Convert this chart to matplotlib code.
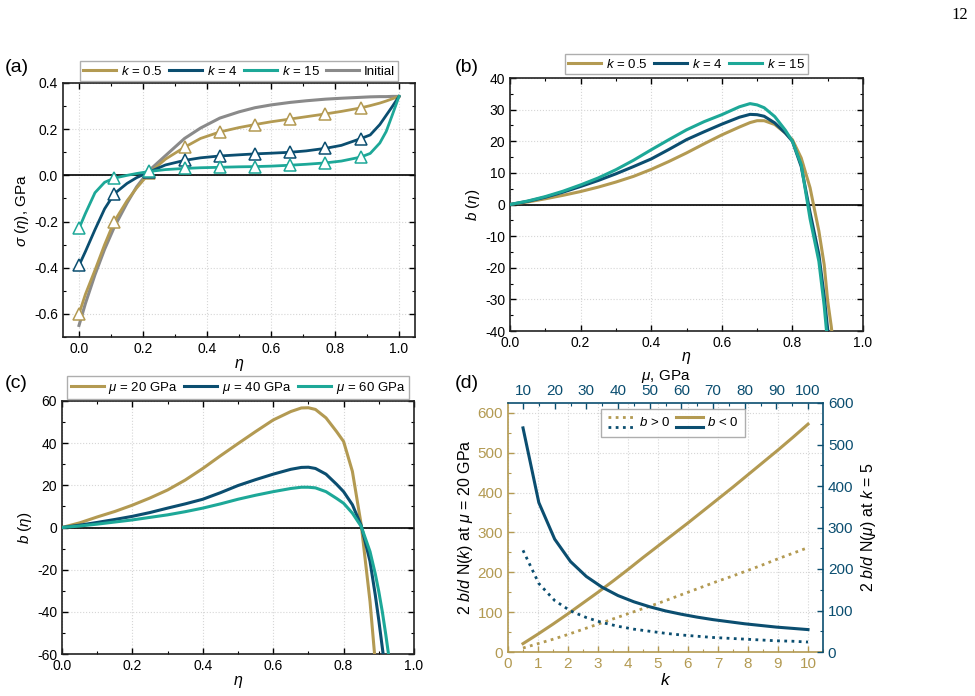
import matplotlib
matplotlib.use('Agg')
import matplotlib.pyplot as plt
from matplotlib.lines import Line2D
from matplotlib.legend_handler import HandlerBase
from matplotlib.ticker import MultipleLocator

# colours
GOLD = '#B39A52'
BLUE = '#0B4E70'
TEAL = '#1DA898'
GRAY = '#8A8A8A'

# ---- panel (a): sigma(eta) ----
eta_a = [0, 0.02, 0.05, 0.08, 0.11, 0.15, 0.18, 0.22, 0.27, 0.33, 0.38, 0.44, 0.50,
         0.55, 0.60, 0.66, 0.71, 0.77, 0.82, 0.88, 0.91, 0.94, 0.96, 0.98, 1.0]
sig_k05 = [-0.600, -0.515, -0.410, -0.300, -0.200, -0.110, -0.055, 0.010, 0.070, 0.122,
           0.160, 0.188, 0.207, 0.220, 0.232, 0.244, 0.254, 0.266, 0.277, 0.292,
           0.302, 0.313, 0.322, 0.332, 0.342]
sig_k4 = [-0.390, -0.330, -0.235, -0.145, -0.080, -0.035, -0.010, 0.015, 0.045, 0.065,
          0.076, 0.084, 0.089, 0.093, 0.096, 0.100, 0.106, 0.117, 0.130, 0.159,
          0.175, 0.220, 0.260, 0.300, 0.342]
sig_k15 = [-0.230, -0.165, -0.075, -0.030, -0.012, 0.000, 0.008, 0.017, 0.025, 0.030,
           0.033, 0.035, 0.037, 0.038, 0.040, 0.044, 0.048, 0.054, 0.062, 0.079,
           0.095, 0.140, 0.190, 0.265, 0.342]
sig_init = [-0.650, -0.555, -0.430, -0.320, -0.225, -0.120, -0.050, 0.022, 0.085, 0.160,
            0.205, 0.248, 0.275, 0.293, 0.305, 0.316, 0.323, 0.330, 0.334, 0.338,
            0.340, 0.341, 0.341, 0.342, 0.342]
marker_idx = [0, 4, 7, 9, 11, 13, 15, 17, 19]

# ---- panel (b): b(eta) for different k ----
eta_b = [0, .05, .1, .15, .2, .25, .3, .35, .4, .45, .5, .55, .6, .65, .68, .7, .72,
         .75, .78, .8, .825, .85, .875, .89, .9, .91, .92]
b_k05 = [0, 0.8, 1.8, 2.9, 4.1, 5.5, 7.1, 8.9, 11.1, 13.6, 16.3, 19.2, 22.0, 24.5, 25.9,
         26.5, 26.5, 25.3, 22.6, 20.5, 14.7, 5.3, -8.4, -19, -30.5, -38.5, -48]
b_k4 = [0, 1.0, 2.3, 3.9, 5.7, 7.6, 9.7, 12.0, 14.4, 17.4, 20.5, 23.0, 25.4, 27.6, 28.5,
        28.4, 27.9, 25.8, 22.6, 20.0, 12.0, -2.5, -15.8, -29, -39.5, -52, -65]
b_k15 = [0, 1.1, 2.5, 4.2, 6.2, 8.4, 11.0, 14.0, 17.3, 20.5, 23.6, 26.2, 28.4, 30.9, 31.9,
         31.5, 30.6, 27.8, 23.5, 20.0, 12.6, -4.5, -18, -32, -44, -58, -72]

# ---- panel (c): b(eta) for different mu ----
eta_c = [0, .05, .1, .15, .2, .25, .3, .35, .4, .45, .5, .55, .6, .65, .68, .7, .72,
         .75, .78, .8, .825, .85, .875, .89, .9, .91, .92, .93]
b_mu20 = [0, 2.2, 5.0, 7.6, 10.6, 14.0, 17.8, 22.5, 28.0, 34.0, 39.8, 45.5, 51.0, 55.0,
          56.7, 56.8, 56.0, 52.0, 45.5, 40.8, 26.6, 1.3, -35, -64, -85, -105, -125, -145]
b_mu40 = [0, 1.1, 2.4, 3.8, 5.3, 7.1, 9.2, 11.2, 13.4, 16.5, 19.9, 22.7, 25.3, 27.6,
          28.5, 28.6, 28.0, 25.3, 20.5, 17.0, 10.8, 0.9, -16, -32, -44, -57, -70, -84]
b_mu60 = [0, 0.7, 1.6, 2.6, 3.6, 4.8, 6.0, 7.5, 9.2, 11.2, 13.4, 15.3, 17.0, 18.5, 19.1,
          19.1, 18.8, 17.0, 13.8, 11.5, 6.8, 0.5, -11.4, -22, -30.4, -40, -51, -63]

# ---- panel (d): N(k) and N(mu) ----
k_vals = [0.5, 1, 1.5, 2, 2.5, 3, 3.5, 4, 4.5, 5, 5.5, 6, 6.5, 7, 7.5, 8, 8.5, 9, 9.5, 10]
Nk_neg = [21, 45, 70, 96, 123, 150, 178, 207, 237, 266, 295, 324, 354, 384, 414, 445,
          476, 507, 539, 572]
Nk_pos = [10, 21, 32, 44, 57, 70, 83, 96, 109, 122, 136, 150, 164, 178, 191, 205, 219,
          234, 248, 262]
mu_vals = [10, 15, 20, 25, 30, 35, 40, 45, 50, 55, 60, 65, 70, 75, 80, 85, 90, 95, 100]
Nmu_neg = [540, 360, 272, 218, 182, 156, 136, 121, 109, 99, 91, 84, 78, 73, 68, 64, 60,
           57, 54]
Nmu_pos = [245, 165, 124, 99, 83, 71, 62, 55, 50, 45, 41, 38, 35, 33, 31, 29, 27, 26, 24]

plt.rcParams['font.family'] = ['Liberation Sans', 'DejaVu Sans']
plt.rcParams['mathtext.fontset'] = 'custom'
plt.rcParams['mathtext.rm'] = 'Liberation Sans'
plt.rcParams['mathtext.it'] = 'Liberation Sans:italic'
plt.rcParams['axes.unicode_minus'] = False
plt.rcParams['xtick.direction'] = 'in'
plt.rcParams['ytick.direction'] = 'in'
plt.rcParams['axes.linewidth'] = 1.2

W, H = 975, 696
fig = plt.figure(figsize=(W / 100, H / 100), dpi=100)


def rect(left, top, right, bottom):
    return [left / W, 1 - bottom / H, (right - left) / W, (bottom - top) / H]


def style(ax, xmaj, xmin, ymaj, ymin):
    ax.xaxis.set_major_locator(MultipleLocator(xmaj))
    ax.xaxis.set_minor_locator(MultipleLocator(xmin))
    ax.yaxis.set_major_locator(MultipleLocator(ymaj))
    ax.yaxis.set_minor_locator(MultipleLocator(ymin))
    ax.tick_params(which='both', top=True, right=True, labelsize=10)
    ax.tick_params(which='major', length=4, width=1)
    ax.tick_params(which='minor', length=2.5, width=0.8)
    ax.grid(True, color='#d6d6d6', ls=':', lw=0.8, zorder=0)
    for s in ax.spines.values():
        s.set_color('#222222')


def top_legend(ax, handles, ncol, pad):
    leg = ax.legend(handles=handles, loc='lower center', bbox_to_anchor=(0.5, 1.0),
                    ncol=ncol, frameon=True, fancybox=False, edgecolor='#9a9a9a',
                    fontsize=9.5, borderpad=0.25, handlelength=2.5, handletextpad=0.35,
                    columnspacing=0.5, borderaxespad=pad)
    leg.get_frame().set_linewidth(1.0)


def zero_line(ax):
    ax.axhline(0, color='black', lw=1.2, zorder=2)


# (a)
ax = fig.add_axes(rect(63, 83, 415, 337))
zero_line(ax)
handles = []
for y, c, lab in [(sig_k05, GOLD, r'$k$ = 0.5'), (sig_k4, BLUE, r'$k$ = 4'),
                  (sig_k15, TEAL, r'$k$ = 15')]:
    ax.plot(eta_a, y, color=c, lw=2, marker='^', markevery=marker_idx, ms=8,
            mfc='white', mec=c, mew=1.1, zorder=4)
    handles.append(Line2D([], [], color=c, lw=2.2, label=lab))
ax.plot(eta_a, sig_init, color=GRAY, lw=2.2, zorder=3)
handles.append(Line2D([], [], color=GRAY, lw=2.2, label='Initial'))
ax.set_xlim(-0.05, 1.05)
ax.set_ylim(-0.7, 0.4)
style(ax, 0.2, 0.1, 0.2, 0.1)
ax.set_xlabel(r'$\eta$', fontsize=11.5, labelpad=1)
ax.set_ylabel(r'$\sigma\ (\eta)$, GPa', fontsize=11, labelpad=2)
top_legend(ax, handles, 4, 0.15)

# (b)
ax = fig.add_axes(rect(510, 78, 863, 331))
zero_line(ax)
ax.plot(eta_b, b_k05, color=GOLD, lw=2.2, label=r'$k$ = 0.5', zorder=3)
ax.plot(eta_b, b_k4, color=BLUE, lw=2.2, label=r'$k$ = 4', zorder=3)
ax.plot(eta_b, b_k15, color=TEAL, lw=2.2, label=r'$k$ = 15', zorder=3)
ax.set_xlim(0, 1)
ax.set_ylim(-40, 40)
style(ax, 0.2, 0.1, 10, 5)
ax.set_xlabel(r'$\eta$', fontsize=11.5, labelpad=0)
ax.set_ylabel(r'$b\ (\eta)$', fontsize=11, labelpad=2)
top_legend(ax, None, 3, 0.3)

# (c)
ax = fig.add_axes(rect(62, 401, 414, 654))
zero_line(ax)
ax.plot(eta_c, b_mu20, color=GOLD, lw=2.2, label=r'$\mu$ = 20 GPa', zorder=3)
ax.plot(eta_c, b_mu40, color=BLUE, lw=2.2, label=r'$\mu$ = 40 GPa', zorder=3)
ax.plot(eta_c, b_mu60, color=TEAL, lw=2.2, label=r'$\mu$ = 60 GPa', zorder=3)
ax.set_xlim(0, 1)
ax.set_ylim(-60, 60)
style(ax, 0.2, 0.1, 20, 10)
ax.set_xlabel(r'$\eta$', fontsize=11.5, labelpad=1)
ax.set_ylabel(r'$b\ (\eta)$', fontsize=11, labelpad=2)
top_legend(ax, None, 3, 0.15)

# (d)
rd = rect(508, 403, 823, 652)
axk = fig.add_axes(rd)
axk.plot(k_vals, Nk_pos, color=GOLD, lw=2, ls=(0, (1, 1.6)))
axk.plot(k_vals, Nk_neg, color=GOLD, lw=2.2)
axk.set_xlim(0, 10.5)
axk.set_ylim(0, 625)
axk.xaxis.set_major_locator(MultipleLocator(1))
axk.xaxis.set_minor_locator(MultipleLocator(0.5))
axk.yaxis.set_major_locator(MultipleLocator(100))
axk.yaxis.set_minor_locator(MultipleLocator(50))
axk.tick_params(which='both', colors=GOLD, labelsize=11, top=False, right=False)
axk.tick_params(which='major', length=4, width=1)
axk.tick_params(which='minor', length=2.5, width=0.8)
axk.grid(True, color='#d6d6d6', ls=':', lw=0.8)
axk.spines['left'].set_color(GOLD)
axk.spines['bottom'].set_color(GOLD)
axk.spines['top'].set_visible(False)
axk.spines['right'].set_visible(False)
axk.set_xlabel(r'$k$', fontsize=12.5, labelpad=1)
axk.set_ylabel(r'2 $b/d$ N($k$) at $\mu$ = 20 GPa', fontsize=11.5, labelpad=2)

axm = fig.add_axes(rd)
axm.patch.set_visible(False)
lp, = axm.plot(mu_vals, Nmu_pos, color=BLUE, lw=2, ls=(0, (1, 1.6)))
ln, = axm.plot(mu_vals, Nmu_neg, color=BLUE, lw=2.2)
axm.set_xlim(10 - 0.5 * 90 / 9.5, 100 + 0.5 * 90 / 9.5)
axm.set_ylim(0, 600)
axm.xaxis.tick_top()
axm.xaxis.set_label_position('top')
axm.yaxis.tick_right()
axm.yaxis.set_label_position('right')
axm.xaxis.set_major_locator(MultipleLocator(10))
axm.xaxis.set_minor_locator(MultipleLocator(5))
axm.yaxis.set_major_locator(MultipleLocator(100))
axm.yaxis.set_minor_locator(MultipleLocator(50))
axm.tick_params(which='both', colors=BLUE, labelsize=11)
axm.tick_params(which='major', length=4, width=1)
axm.tick_params(which='minor', length=2.5, width=0.8)
axm.spines['top'].set_color(BLUE)
axm.spines['right'].set_color(BLUE)
axm.spines['left'].set_visible(False)
axm.spines['bottom'].set_visible(False)
axm.set_xlabel(r'$\mu$, GPa', fontsize=11, labelpad=3)
axm.set_ylabel(r'2 $b/d$ N($\mu$) at $k$ = 5', fontsize=11.5, rotation=90, labelpad=4)


class StackedPair(HandlerBase):
    def create_artists(self, legend, orig_handle, xdescent, ydescent, width, height,
                       fontsize, trans):
        out = []
        for y, h in zip((height * 1.05, -height * 0.05), orig_handle):
            line = Line2D([-xdescent, -xdescent + width], [y - ydescent] * 2)
            line.update_from(h)
            line.set_transform(trans)
            out.append(line)
        return out


gk_pos = Line2D([], [], color=GOLD, lw=2, ls=(0, (1, 1.6)))
gk_neg = Line2D([], [], color=GOLD, lw=2.2)
leg = axm.legend([(gk_pos, lp), (gk_neg, ln)], [r'$b$ > 0', r'$b$ < 0'],
                 handler_map={tuple: StackedPair()}, ncol=2, loc='upper left',
                 bbox_to_anchor=(0.295, 0.975), borderaxespad=0, frameon=True,
                 fancybox=False, edgecolor='#9a9a9a', fontsize=9.5, handlelength=2.1,
                 handletextpad=0.25, columnspacing=0.4, borderpad=0.55)
leg.get_frame().set_linewidth(1.0)

# panel labels and page number
for x, y, s in [(5, 68, '(a)'), (455, 68, '(b)'), (5, 383, '(c)'), (455, 383, '(d)')]:
    fig.text(x / W, 1 - y / H, s, fontsize=14, va='center', ha='left')
fig.text(968 / W, 1 - 15 / H, '12', fontsize=12, family='Liberation Serif',
         ha='right', va='center')

fig.savefig('out.png', dpi=100)
